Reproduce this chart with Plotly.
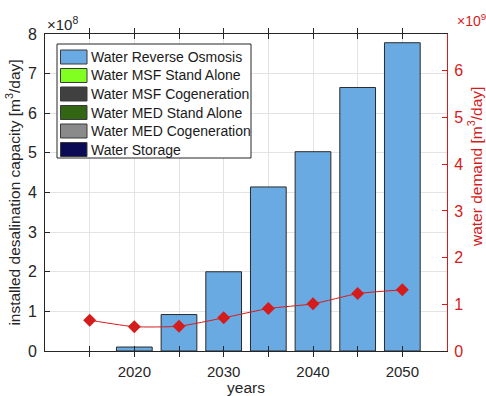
import plotly.graph_objects as go

bar_years = [2020, 2025, 2030, 2035, 2040, 2045, 2050]
ro_capacity = [0.10e8, 0.92e8, 2.00e8, 4.14e8, 5.03e8, 6.65e8, 7.78e8]

demand_years = [2015, 2020, 2025, 2030, 2035, 2040, 2045, 2050]
water_demand = [0.66e9, 0.52e9, 0.53e9, 0.71e9, 0.91e9, 1.01e9, 1.23e9, 1.31e9]

legend_names = ["Water Reverse Osmosis", "Water MSF Stand Alone", "Water MSF Cogeneration",
                "Water MED Stand Alone", "Water MED Cogeneration", "Water Storage"]
legend_colors = ["#6aaae2", "#80ff20", "#404040", "#336613", "#8a8a8a", "#0a0a55"]

x_ticks = [2015, 2020, 2025, 2030, 2035, 2040, 2045, 2050]
x_ticktext = ["", "2020", "", "2030", "", "2040", "", "2050"]
y_ticks = [i * 1e8 for i in range(9)]
y_ticktext = [str(i) for i in range(9)]
y2_ticks = [i * 1e9 for i in range(7)]
y2_ticktext = [str(i) for i in range(7)]

FONT = "Liberation Sans, Arial, sans-serif"
RED = "#d41c1c"
DARK = "#262626"

# plot-area pixel geometry (for the hand-drawn legend)
PL, PR, PT, PB = 45, 447, 34, 351
def px(x):
    return (x - PL) / (PR - PL)
def py(y):
    return (PB - y) / (PB - PT)

fig = go.Figure()
fig.add_trace(go.Bar(x=bar_years, y=ro_capacity, width=4, name=legend_names[0],
                     marker=dict(color=legend_colors[0], line=dict(color="#2a2a2a", width=1)),
                     showlegend=False))
fig.add_trace(go.Scatter(x=demand_years, y=water_demand, yaxis="y2", mode="lines+markers",
                         line=dict(color=RED, width=1, shape="spline", smoothing=0.5),
                         marker=dict(symbol="diamond", size=10, color=RED),
                         showlegend=False))

shapes = [dict(type="rect", xref="paper", yref="paper",
               x0=px(57), x1=px(251), y0=py(158), y1=py(44),
               fillcolor="white", line=dict(color=DARK, width=1), layer="above")]
annotations = []
for i, (nm, col) in enumerate(zip(legend_names, legend_colors)):
    top = 50 + i * 18.5
    shapes.append(dict(type="rect", xref="paper", yref="paper",
                       x0=px(60.5), x1=px(87), y0=py(top + 14), y1=py(top),
                       fillcolor=col, line=dict(color="#3a3a3a", width=1), layer="above"))
    annotations.append(dict(text=nm, xref="paper", yref="paper", x=px(89), y=py(top + 7),
                            xanchor="left", yanchor="middle", showarrow=False,
                            font=dict(size=14, color="#1a1a1a")))

annotations += [
    dict(text="×10<sup>8</sup>", xref="paper", yref="paper", x=0, y=1.0,
         xanchor="left", yanchor="bottom", showarrow=False, yshift=-1,
         font=dict(size=15, color=DARK)),
    dict(text="×10<sup>9</sup>", xref="paper", yref="paper", x=px(455), y=1.0,
         xanchor="left", yanchor="bottom", showarrow=False, yshift=3,
         font=dict(size=14, color=RED)),
    dict(text="water demand [m<sup>3</sup>/day]", xref="paper", yref="paper",
         x=px(475), y=py(167), xanchor="center", yanchor="middle", textangle=-90,
         showarrow=False, font=dict(size=15.5, color=RED)),
]

fig.update_layout(
    width=486, height=396,
    margin=dict(l=PL, r=486 - PR, t=PT, b=396 - PB),
    paper_bgcolor="white", plot_bgcolor="white",
    font=dict(family=FONT, size=14, color=DARK),
    barmode="overlay",
    showlegend=False,
    shapes=shapes,
    annotations=annotations,
    xaxis=dict(range=[2010, 2055], tickvals=x_ticks, ticktext=x_ticktext,
               ticks="inside", ticklen=5, tickcolor=DARK, automargin=False,
               showline=True, linecolor=DARK, linewidth=1, mirror="allticks",
               showgrid=True, gridcolor="#e3e3e3", gridwidth=1, zeroline=False,
               ticklabelstandoff=7,
               title=dict(text="years", font=dict(size=15.5), standoff=6),
               tickfont=dict(size=15)),
    yaxis=dict(range=[0, 8e8], tickvals=y_ticks, ticktext=y_ticktext,
               ticks="inside", ticklen=5, tickcolor=DARK, automargin=False,
               showline=True, linecolor=DARK, linewidth=1,
               showgrid=True, gridcolor="#e3e3e3", zeroline=False,
               ticklabelstandoff=4,
               title=dict(text="installed desalination capacity [m<sup>3</sup>/day]",
                          font=dict(size=15.5), standoff=3),
               tickfont=dict(size=16)),
    yaxis2=dict(range=[0, 6.79e9], tickvals=y2_ticks, ticktext=y2_ticktext,
                overlaying="y", side="right", automargin=False,
                ticks="inside", ticklen=5, tickcolor=RED,
                showline=True, linecolor=RED, linewidth=1,
                showgrid=False, zeroline=False,
                ticklabelstandoff=3,
                tickfont=dict(size=16, color=RED)),
)

fig.write_html("out.html")
